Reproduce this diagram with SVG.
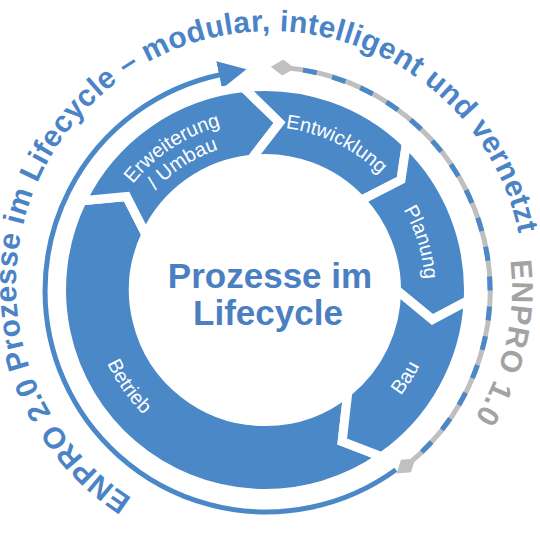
<svg xmlns="http://www.w3.org/2000/svg" width="540" height="540" viewBox="0 0 540 540">
<defs>
<style>
.seg{fill:#4a88c8;stroke:#ffffff;stroke-width:9;stroke-linejoin:miter}
.lbl{font-family:"Liberation Sans",Arial,sans-serif;font-size:20px;fill:#ffffff;text-anchor:middle}
.title{font-family:"Liberation Sans",Arial,sans-serif;font-weight:bold;font-size:35px;fill:#4a80c2;text-anchor:middle}
.outer{font-family:"Liberation Sans",Arial,sans-serif;font-weight:bold;font-size:30px;fill:#4a84c6}
.gray{font-family:"Liberation Sans",Arial,sans-serif;font-weight:bold;font-size:30px;fill:#a3a3a3}
</style>
<marker id="arrow" markerUnits="userSpaceOnUse" markerWidth="28" markerHeight="28" viewBox="0 0 28 28" refX="1" refY="14" orient="auto"><path d="M0,0 L28,14 L0,28 Z" fill="#4a88c8"/></marker>
<marker id="diamond" markerUnits="userSpaceOnUse" markerWidth="24" markerHeight="16" viewBox="-12 -8 24 16" refX="0" refY="0" orient="auto"><path d="M-12,0 L0,-8 L12,0 L0,8 Z" fill="#c0c0c0"/></marker>
<path id="pOuter" d="M 132 498.3 A 254 254 0 1 1 523 262.9"/>
<path id="pGray" d="M 510.4 260.3 A 245 245 0 0 1 424.5 475.7"/>
<path id="pErw" d="M 107.6 227.8 A 170 170 0 0 1 270.9 120.1"/>
<path id="pUmb" d="M 127.7 234.6 A 148 148 0 0 1 270.2 142.1"/>
<path id="pEnt" d="M 225.6 131.8 A 163 163 0 0 1 413.9 223.7"/>
<path id="pPla" d="M 352.1 155.8 A 160 160 0 0 1 412.3 352.5"/>
<path id="pBau" d="M 345.8 441.9 A 172 172 0 0 0 436.9 296.0"/>
<path id="pBet" d="M 91.6 275.7 A 174 174 0 0 0 220.8 458.3"/>
</defs>

<g id="connectors">
<path d="M 395.9 469.8 A 221 221 0 1 1 220.1 74.8" fill="none" stroke="#4a88c8" stroke-width="5" marker-end="url(#arrow)"/>
<path d="M 282.8 67.6 A 224 224 0 0 1 406.0 465.9" fill="none" stroke="#bfbfbf" stroke-width="5" marker-start="url(#diamond)" marker-end="url(#diamond)"/>
<path d="M 303.0 70.1 A 224 224 0 0 1 417.3 456.2" fill="none" stroke="#4a88c8" stroke-width="5" stroke-dasharray="14 16"/>
</g>

<g id="betrieb">
<path class="seg" d="M 381.7 456.7 A 203.5 203.5 0 0 1 82.1 200.8 L 126.6 196.6 L 145.8 234.4 A 131.5 131.5 0 0 0 347.8 392.2 L 342.2 441.5 Z"/>
<text class="lbl"><textPath href="#pBet" startOffset="50%">Betrieb</textPath></text>
</g>
<g id="erweiterung">
<path class="seg" d="M 82.1 200.8 A 203.5 203.5 0 0 1 243.7 87.6 L 279.6 122.6 L 251.3 159.2 A 131.5 131.5 0 0 0 145.8 234.4 L 126.6 196.6 Z"/>
<text class="lbl"><textPath href="#pErw" startOffset="50%">Erweiterung</textPath></text>
<text class="lbl"><textPath href="#pUmb" startOffset="50%">/ Umbau</textPath></text>
</g>
<g id="entwicklung">
<path class="seg" d="M 243.7 87.6 A 203.5 203.5 0 0 1 406.4 143.6 L 401.0 179.9 L 361.2 200.3 A 131.5 131.5 0 0 0 251.3 159.2 L 279.6 122.6 Z"/>
<text class="lbl"><textPath href="#pEnt" startOffset="50%">Entwicklung</textPath></text>
</g>
<g id="planung">
<path class="seg" d="M 406.4 143.6 A 203.5 203.5 0 0 1 468.2 300.6 L 432.4 319.5 L 396.5 290 A 131.5 131.5 0 0 0 361.2 200.3 L 401.0 179.9 Z"/>
<text class="lbl"><textPath href="#pPla" startOffset="50%">Planung</textPath></text>
</g>
<g id="bau">
<path class="seg" d="M 468.2 300.6 A 203.5 203.5 0 0 1 381.7 456.7 L 342.2 441.5 L 347.8 392.2 A 131.5 131.5 0 0 0 396.5 290 L 432.4 319.5 Z"/>
<text class="lbl"><textPath href="#pBau" startOffset="50%">Bau</textPath></text>
</g>

<g id="center">
<text class="title" x="270" y="288">Prozesse im</text>
<text class="title" x="268" y="325">Lifecycle</text>
</g>

<g id="outer-text">
<text class="outer" letter-spacing="0.4"><textPath href="#pOuter">ENPRO 2.0 Prozesse im Lifecycle – modular, intelligent und vernetzt</textPath></text>
<text class="gray" letter-spacing="1"><textPath href="#pGray">ENPRO 1.0</textPath></text>
</g>
</svg>
